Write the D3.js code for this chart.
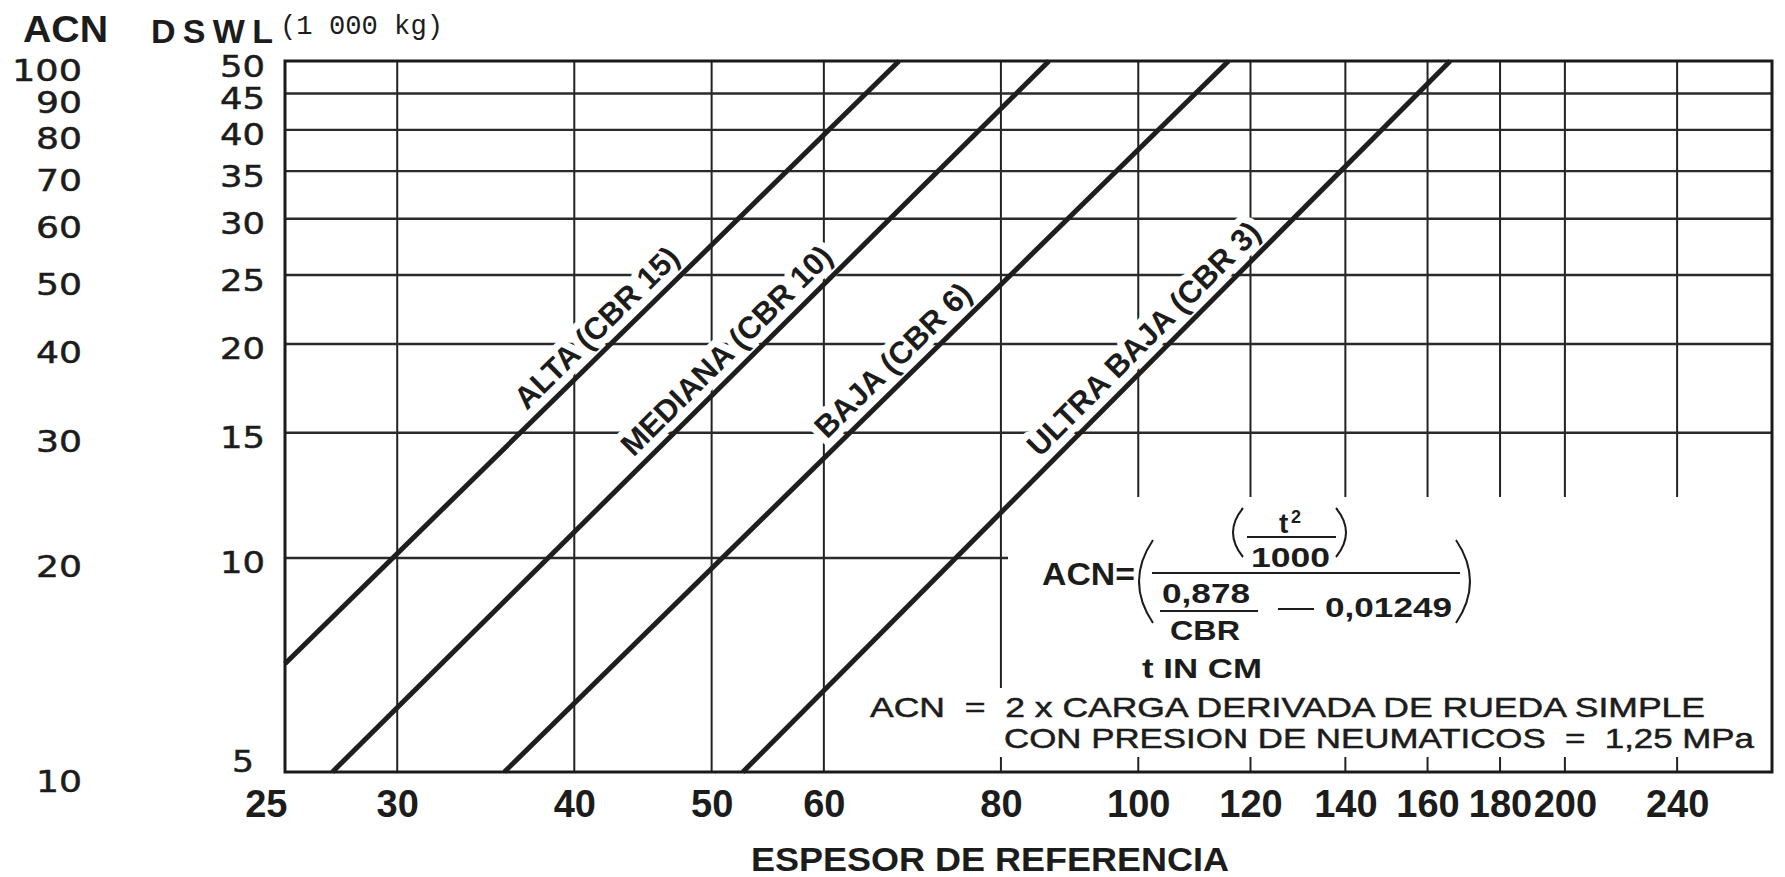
<!DOCTYPE html>
<html>
<head>
<meta charset="utf-8">
<script src="https://cdnjs.cloudflare.com/ajax/libs/d3/7.8.5/d3.min.js"></script>
<style>
	body { margin: 0; background: #fff; }
	svg { display: block; }
	text { fill: #1c1c1c; }
</style>
</head>
<body>
<div id="chart"></div>
<script>
// reference thickness (cm), bottom axis
const xTicks = [25, 30, 40, 50, 60, 80, 100, 120, 140, 160, 180, 200, 240];
// DSWL (1 000 kg) and ACN, left axes
const dswlTicks = [5, 10, 15, 20, 25, 30, 35, 40, 45, 50];
const acnTicks = [10, 20, 30, 40, 50, 60, 70, 80, 90, 100];

const categories = ["ALTA (CBR 15)", "MEDIANA (CBR 10)", "BAJA (CBR 6)", "ULTRA BAJA (CBR 3)"];
const altaLine = [[25, 7.1], [67.8, 50]];
const medianaLine = [[27.0, 5], [86.5, 50]];
const bajaLine = [[35.7, 5], [115.8, 50]];
const ultraBajaLine = [[52.6, 5], [166, 50]];
const curves = [altaLine, medianaLine, bajaLine, ultraBajaLine];
// thickness where each label sits along its line
const labelAt = [42.5, 52.5, 68.8, 103.4];

// size
const width = 1785;
const height = 877;
const plotLeft = 285, plotRight = 1772, plotTop = 61, plotBottom = 772;

// area kept clear for the formula and the note
const boxLeft = 1008, boxTop = 497;
const noteLeft = 870, noteTop = 688;

const svg = d3.select("#chart")
	.append("svg")
	.attr("width", width)
	.attr("height", height)
	.attr("viewBox", [0, 0, width, height]);

const x = d3.scaleLog().domain([25, 280]).range([plotLeft, plotRight]);
const y = d3.scaleLog().domain([5, 50]).range([plotBottom, plotTop]);
const yAcn = d3.scaleLog().domain([10, 100]).range([plotBottom, plotTop]);

// vertical grid
const vEnd = (d) => x(d) > boxLeft ? boxTop : x(d) > noteLeft ? noteTop : plotBottom;

svg.append("g")
	.selectAll("line")
	.data(xTicks.filter((d) => d > 25))
	.enter()
	.append("line")
	.attr("x1", (d) => x(d))
	.attr("x2", (d) => x(d))
	.attr("y1", plotTop)
	.attr("y2", vEnd)
	.attr("stroke", "#222")
	.attr("stroke-width", 2);

// short ticks under the clear area
svg.append("g")
	.selectAll("line")
	.data(xTicks.filter((d) => vEnd(d) < plotBottom))
	.enter()
	.append("line")
	.attr("x1", (d) => x(d))
	.attr("x2", (d) => x(d))
	.attr("y1", plotBottom - 15)
	.attr("y2", plotBottom)
	.attr("stroke", "#222")
	.attr("stroke-width", 2);

// horizontal grid
svg.append("g")
	.selectAll("line")
	.data(dswlTicks.filter((d) => d > 5 && d < 50))
	.enter()
	.append("line")
	.attr("x1", plotLeft)
	.attr("x2", (d) => y(d) > boxTop ? boxLeft : plotRight)
	.attr("y1", (d) => y(d))
	.attr("y2", (d) => y(d))
	.attr("stroke", "#2a2a2a")
	.attr("stroke-width", 2.4);

// frame
svg.append("rect")
	.attr("x", plotLeft)
	.attr("y", plotTop)
	.attr("width", plotRight - plotLeft)
	.attr("height", plotBottom - plotTop)
	.attr("fill", "none")
	.attr("stroke", "#1a1a1a")
	.attr("stroke-width", 3);

// labels along the lines (white halo cuts the grid)
svg.append("g")
	.selectAll("text")
	.data(curves)
	.enter()
	.append("text")
	.attr("transform", (d, i) => {
		const x0 = x(d[0][0]), y0 = y(d[0][1]);
		const x1 = x(d[1][0]), y1 = y(d[1][1]);
		const len = Math.hypot(x1 - x0, y1 - y0);
		const ux = (x1 - x0) / len, uy = (y1 - y0) / len;
		const f = Math.log(labelAt[i] / d[0][0]) / Math.log(d[1][0] / d[0][0]);
		const dv = d[0][1] * Math.pow(d[1][1] / d[0][1], f);
		const px = x(labelAt[i]) + uy * 11;
		const py = y(dv) - ux * 11;
		const angle = Math.atan2(y1 - y0, x1 - x0) * 180 / Math.PI;
		return "translate(" + px + "," + py + ") rotate(" + angle + ")";
	})
	.attr("text-anchor", "middle")
	.attr("stroke", "#fff")
	.attr("stroke-width", 14)
	.attr("stroke-linejoin", "round")
	.style("paint-order", "stroke")
	.style("font-family", "'Liberation Sans', Arial, sans-serif")
	.style("font-weight", "bold")
	.style("font-size", "31px")
	.text((d, i) => categories[i]);

// CBR lines
const line = d3.line()
	.x((d) => x(d[0]))
	.y((d) => y(d[1]));

svg.append("g")
	.selectAll("path")
	.data(curves)
	.enter()
	.append("path")
	.attr("d", line)
	.attr("fill", "none")
	.attr("stroke", "#1e1e1e")
	.attr("stroke-width", 5);

// bottom axis
const xAxis = svg.append("g")
	.attr("transform", "translate(0," + plotBottom + ")")
	.call(d3.axisBottom(x).tickValues(xTicks).tickFormat(d3.format("d")).tickSize(0).tickPadding(18));
xAxis.select(".domain").remove();
xAxis.selectAll("text")
	.style("font-family", "'Liberation Sans', Arial, sans-serif")
	.style("font-weight", "bold")
	.style("font-size", "38px")
	.attr("fill", "#1c1c1c");
xAxis.selectAll(".tick text")
	.filter((d) => d == 25)
	.attr("text-anchor", "end")
	.attr("dx", 2);

// DSWL axis
const yAxis = svg.append("g")
	.attr("transform", "translate(" + plotLeft + ",0)")
	.call(d3.axisLeft(y).tickValues(dswlTicks).tickFormat(d3.format("d")).tickSize(0).tickPadding(20));
yAxis.select(".domain").remove();
yAxis.selectAll("text")
	.style("font-family", "'DejaVu Sans', sans-serif")
	.style("font-size", "31px")
	.attr("textLength", (d) => d < 10 ? 22 : 45)
	.attr("lengthAdjust", "spacingAndGlyphs")
	.attr("fill", "#1c1c1c")
	.attr("stroke", "#1c1c1c")
	.attr("stroke-width", 0.5)
	.attr("dy", (d) => d == 5 ? -1 : 15)
	.attr("dx", (d) => d == 5 ? -11 : 0);

// ACN axis
const acnAxis = svg.append("g")
	.attr("transform", "translate(82,0)")
	.call(d3.axisLeft(yAcn).tickValues(acnTicks).tickFormat(d3.format("d")).tickSize(0).tickPadding(0));
acnAxis.select(".domain").remove();
acnAxis.selectAll("text")
	.style("font-family", "'DejaVu Sans', sans-serif")
	.style("font-size", "31px")
	.attr("textLength", (d) => d >= 100 ? 70 : 46)
	.attr("lengthAdjust", "spacingAndGlyphs")
	.attr("fill", "#1c1c1c")
	.attr("stroke", "#1c1c1c")
	.attr("stroke-width", 0.5)
	.attr("dy", 19);

// headers
svg.append("text")
	.attr("x", 23)
	.attr("y", 42)
	.attr("textLength", 85)
	.attr("lengthAdjust", "spacingAndGlyphs")
	.style("font-family", "'Liberation Sans', Arial, sans-serif")
	.style("font-weight", "bold")
	.style("font-size", "37px")
	.text("ACN");

svg.append("text")
	.attr("x", 151)
	.attr("y", 43)
	.attr("textLength", 122)
	.attr("lengthAdjust", "spacing")
	.style("font-family", "'Liberation Sans', Arial, sans-serif")
	.style("font-weight", "bold")
	.style("font-size", "34px")
	.text("DSWL");

svg.append("text")
	.attr("x", 280)
	.attr("y", 34)
	.attr("textLength", 163)
	.attr("lengthAdjust", "spacingAndGlyphs")
	.style("font-family", "'Liberation Mono', 'Courier New', monospace")
	.style("font-size", "27px")
	.style("white-space", "pre")
	.text("(1 000 kg)");

svg.append("text")
	.attr("x", 751)
	.attr("y", 871)
	.attr("textLength", 478)
	.attr("lengthAdjust", "spacingAndGlyphs")
	.style("font-family", "'Liberation Sans', Arial, sans-serif")
	.style("font-weight", "bold")
	.style("font-size", "33px")
	.text("ESPESOR DE REFERENCIA");

// formula
const formula = svg.append("g")
	.style("font-family", "'Liberation Sans', Arial, sans-serif")
	.style("font-weight", "bold");

const fText = (tx, ty, size, len, str) => {
	const t = formula.append("text")
		.attr("x", tx)
		.attr("y", ty)
		.style("font-size", size + "px")
		.text(str);
	if (len) t.attr("textLength", len).attr("lengthAdjust", "spacingAndGlyphs");
	return t;
};
const fLine = (x1, x2, ly) => {
	formula.append("line")
		.attr("x1", x1).attr("x2", x2)
		.attr("y1", ly).attr("y2", ly)
		.attr("stroke", "#1c1c1c")
		.attr("stroke-width", 2);
};
const fParen = (x0, y0, y1, bulge) => {
	formula.append("path")
		.attr("d", "M" + x0 + "," + y0 + " Q" + (x0 + bulge) + "," + ((y0 + y1) / 2) + " " + x0 + "," + y1)
		.attr("fill", "none")
		.attr("stroke", "#1c1c1c")
		.attr("stroke-width", 2);
};

fText(1042, 585, 31, 93, "ACN=");
fParen(1153, 540, 623, -28);
fParen(1243, 508, 557, -20);
fText(1279, 533, 28, null, "t");
fText(1291, 523, 18, null, "2");
fLine(1247, 1336, 537);
fText(1251, 567, 28, 79, "1000");
fParen(1336, 508, 557, 20);
fLine(1152, 1460, 573);
fText(1162, 603, 28, 88, "0,878");
fLine(1160, 1258, 611);
fText(1170, 640, 28, 70, "CBR");
fLine(1278, 1314, 609);
fText(1325, 617, 28, 127, "0,01249");
fParen(1456, 540, 623, 28);
fText(1142, 678, 28, 120, "t IN CM");

// note
svg.append("text")
	.attr("x", 870)
	.attr("y", 717)
	.attr("textLength", 835)
	.attr("lengthAdjust", "spacingAndGlyphs")
	.style("font-family", "'Liberation Sans', Arial, sans-serif")
	.style("font-size", "28px")
	.style("white-space", "pre")
	.attr("stroke", "#1c1c1c")
	.attr("stroke-width", 0.5)
	.text("ACN  =  2 x CARGA DERIVADA DE RUEDA SIMPLE");

svg.append("text")
	.attr("x", 1004)
	.attr("y", 748)
	.attr("textLength", 750)
	.attr("lengthAdjust", "spacingAndGlyphs")
	.style("font-family", "'Liberation Sans', Arial, sans-serif")
	.style("font-size", "28px")
	.style("white-space", "pre")
	.attr("stroke", "#1c1c1c")
	.attr("stroke-width", 0.5)
	.text("CON PRESION DE NEUMATICOS  =  1,25 MPa");
</script>
</body>
</html>
